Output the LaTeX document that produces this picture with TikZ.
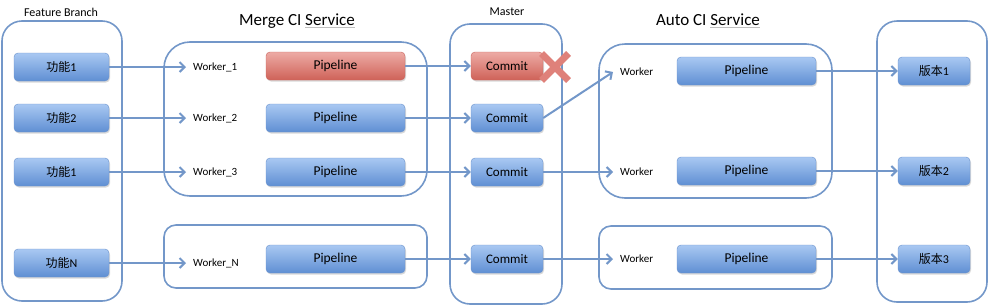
\documentclass[tikz,border=0pt]{standalone}
\usepackage{fontspec}
\setmainfont{Carlito}
\newfontfamily\cjk{Noto Sans CJK SC}
\usetikzlibrary{arrows.meta,shadows,shapes.misc}
\definecolor{frame}{HTML}{7397C9}
\definecolor{jobtop}{HTML}{A9C8F2}
\definecolor{jobbot}{HTML}{5F8FD3}
\definecolor{jobline}{HTML}{6B92CC}
\definecolor{failtop}{HTML}{EDABA5}
\definecolor{failbot}{HTML}{CF6258}
\definecolor{failline}{HTML}{C9655E}
\definecolor{crosscol}{HTML}{DF817A}
\newcommand\spellmark[1]{\setbox0\hbox{#1}\rlap{\color{black!25}\rule[-3pt]{\wd0}{1.6pt}}\box0}
\tikzset{
  job/.style={
    shape = rectangle,
    rounded corners = 4pt,
    draw = jobline,
    top color = jobtop,
    bottom color = jobbot,
    minimum height = 28pt,
    inner sep = 0pt,
    drop shadow = {opacity=0.3, shadow xshift=1pt, shadow yshift=-1.5pt},
    font = \fontsize{12}{14}\selectfont
  },
  jobfail/.style={
    job,
    draw = failline,
    top color = failtop,
    bottom color = failbot
  },
  pipe/.style={
    minimum width = 139pt,
    font = \fontsize{13.5}{15}\selectfont
  },
  commit/.style={
    minimum width = 72pt,
    font = \fontsize{13}{15}\selectfont
  },
  worker/.style={
    anchor = west,
    inner xsep = 7pt,
    font = \fontsize{11}{13}\selectfont
  },
  group/.style={
    draw = frame,
    line width = 1.6pt
  },
  caption/.style={
    inner sep = 1pt,
    font = \fontsize{12}{14}\selectfont
  },
  heading/.style={
    inner sep = 1pt,
    font = \fontsize{17}{20}\selectfont
  },
  flow/.style={
    draw = frame,
    line width = 2pt,
    -{Straight Barb[length=5pt,width=10pt]}
  },
  crossmark/.style={
    shape = cross out,
    draw = crosscol,
    line width = 7pt,
    minimum size = 20pt,
    inner sep = 0pt
  }
}

\begin{document}
\begin{tikzpicture}[x=1pt, y=-1pt]
  \useasboundingbox (0,0) rectangle (989,306);
  % containers
  \draw[group, rounded corners=20pt] (2,21) rectangle (122,301);
  \draw[group, rounded corners=26pt] (164,42) rectangle (427,196);
  \draw[group, rounded corners=12pt] (164,225) rectangle (427,288);
  \draw[group, rounded corners=20pt] (450,24) rectangle (562,304);
  \draw[group, rounded corners=26pt] (599,44) rectangle (832,198);
  \draw[group, rounded corners=12pt] (599,226) rectangle (832,289);
  \draw[group, rounded corners=20pt] (877,21) rectangle (987,302);
  % titles
  \node[caption] (tf) at (61,12) {Feature Branch};
  \node[heading] (tm) at (297,21) {Merge CI \spellmark{Service}};
  \node[caption] (tc) at (507,12) {Master};
  \node[heading] (ta) at (708,21) {Auto CI \spellmark{Service}};
  % features -> merge workers
  \foreach \y/\t/\n in {67/1/1, 118/2/2, 172/1/3, 263/N/N}{
    \node[job, minimum width=95pt] (f\n) at (61.5,\y) {{\cjk 功能}\t};
    \node[worker] (w\n) at (186,\y) {Worker\_\n};
    \draw[flow] (f\n) -- (w\n);
  }
  % merge pipelines -> master
  \node[jobfail, pipe] (p1) at (335.5,66) {Pipeline};
  \node[jobfail, commit] (c1) at (507,66) {Commit};
  \foreach \y/\n in {118/2, 172/3, 259/N}{
    \node[job, pipe] (p\n) at (335.5,\y) {Pipeline};
    \node[job, commit] (c\n) at (507,\y) {Commit};
  }
  \foreach \n in {1,2,3,N}
    \draw[flow] (p\n) -- (c\n);
  \node[crossmark] (fail) at (555,67) {};
  % auto ci
  \foreach \y/\n in {72/1, 172/2, 259/3}
    \node[worker] (aw\n) at (613,\y) {Worker};
  \foreach \y/\n in {71/1, 171/2, 259/3}{
    \node[job, pipe] (ap\n) at (746.5,\y) {Pipeline};
    \node[job, minimum width=72pt] (v\n) at (934,\y) {{\cjk 版本}\n};
    \draw[flow] (ap\n) -- (v\n);
  }
  \draw[flow] (c2.east) -- (aw1.west);
  \draw[flow] (c3) -- (aw2);
  \draw[flow] (cN) -- (aw3);
\end{tikzpicture}
\end{document}
